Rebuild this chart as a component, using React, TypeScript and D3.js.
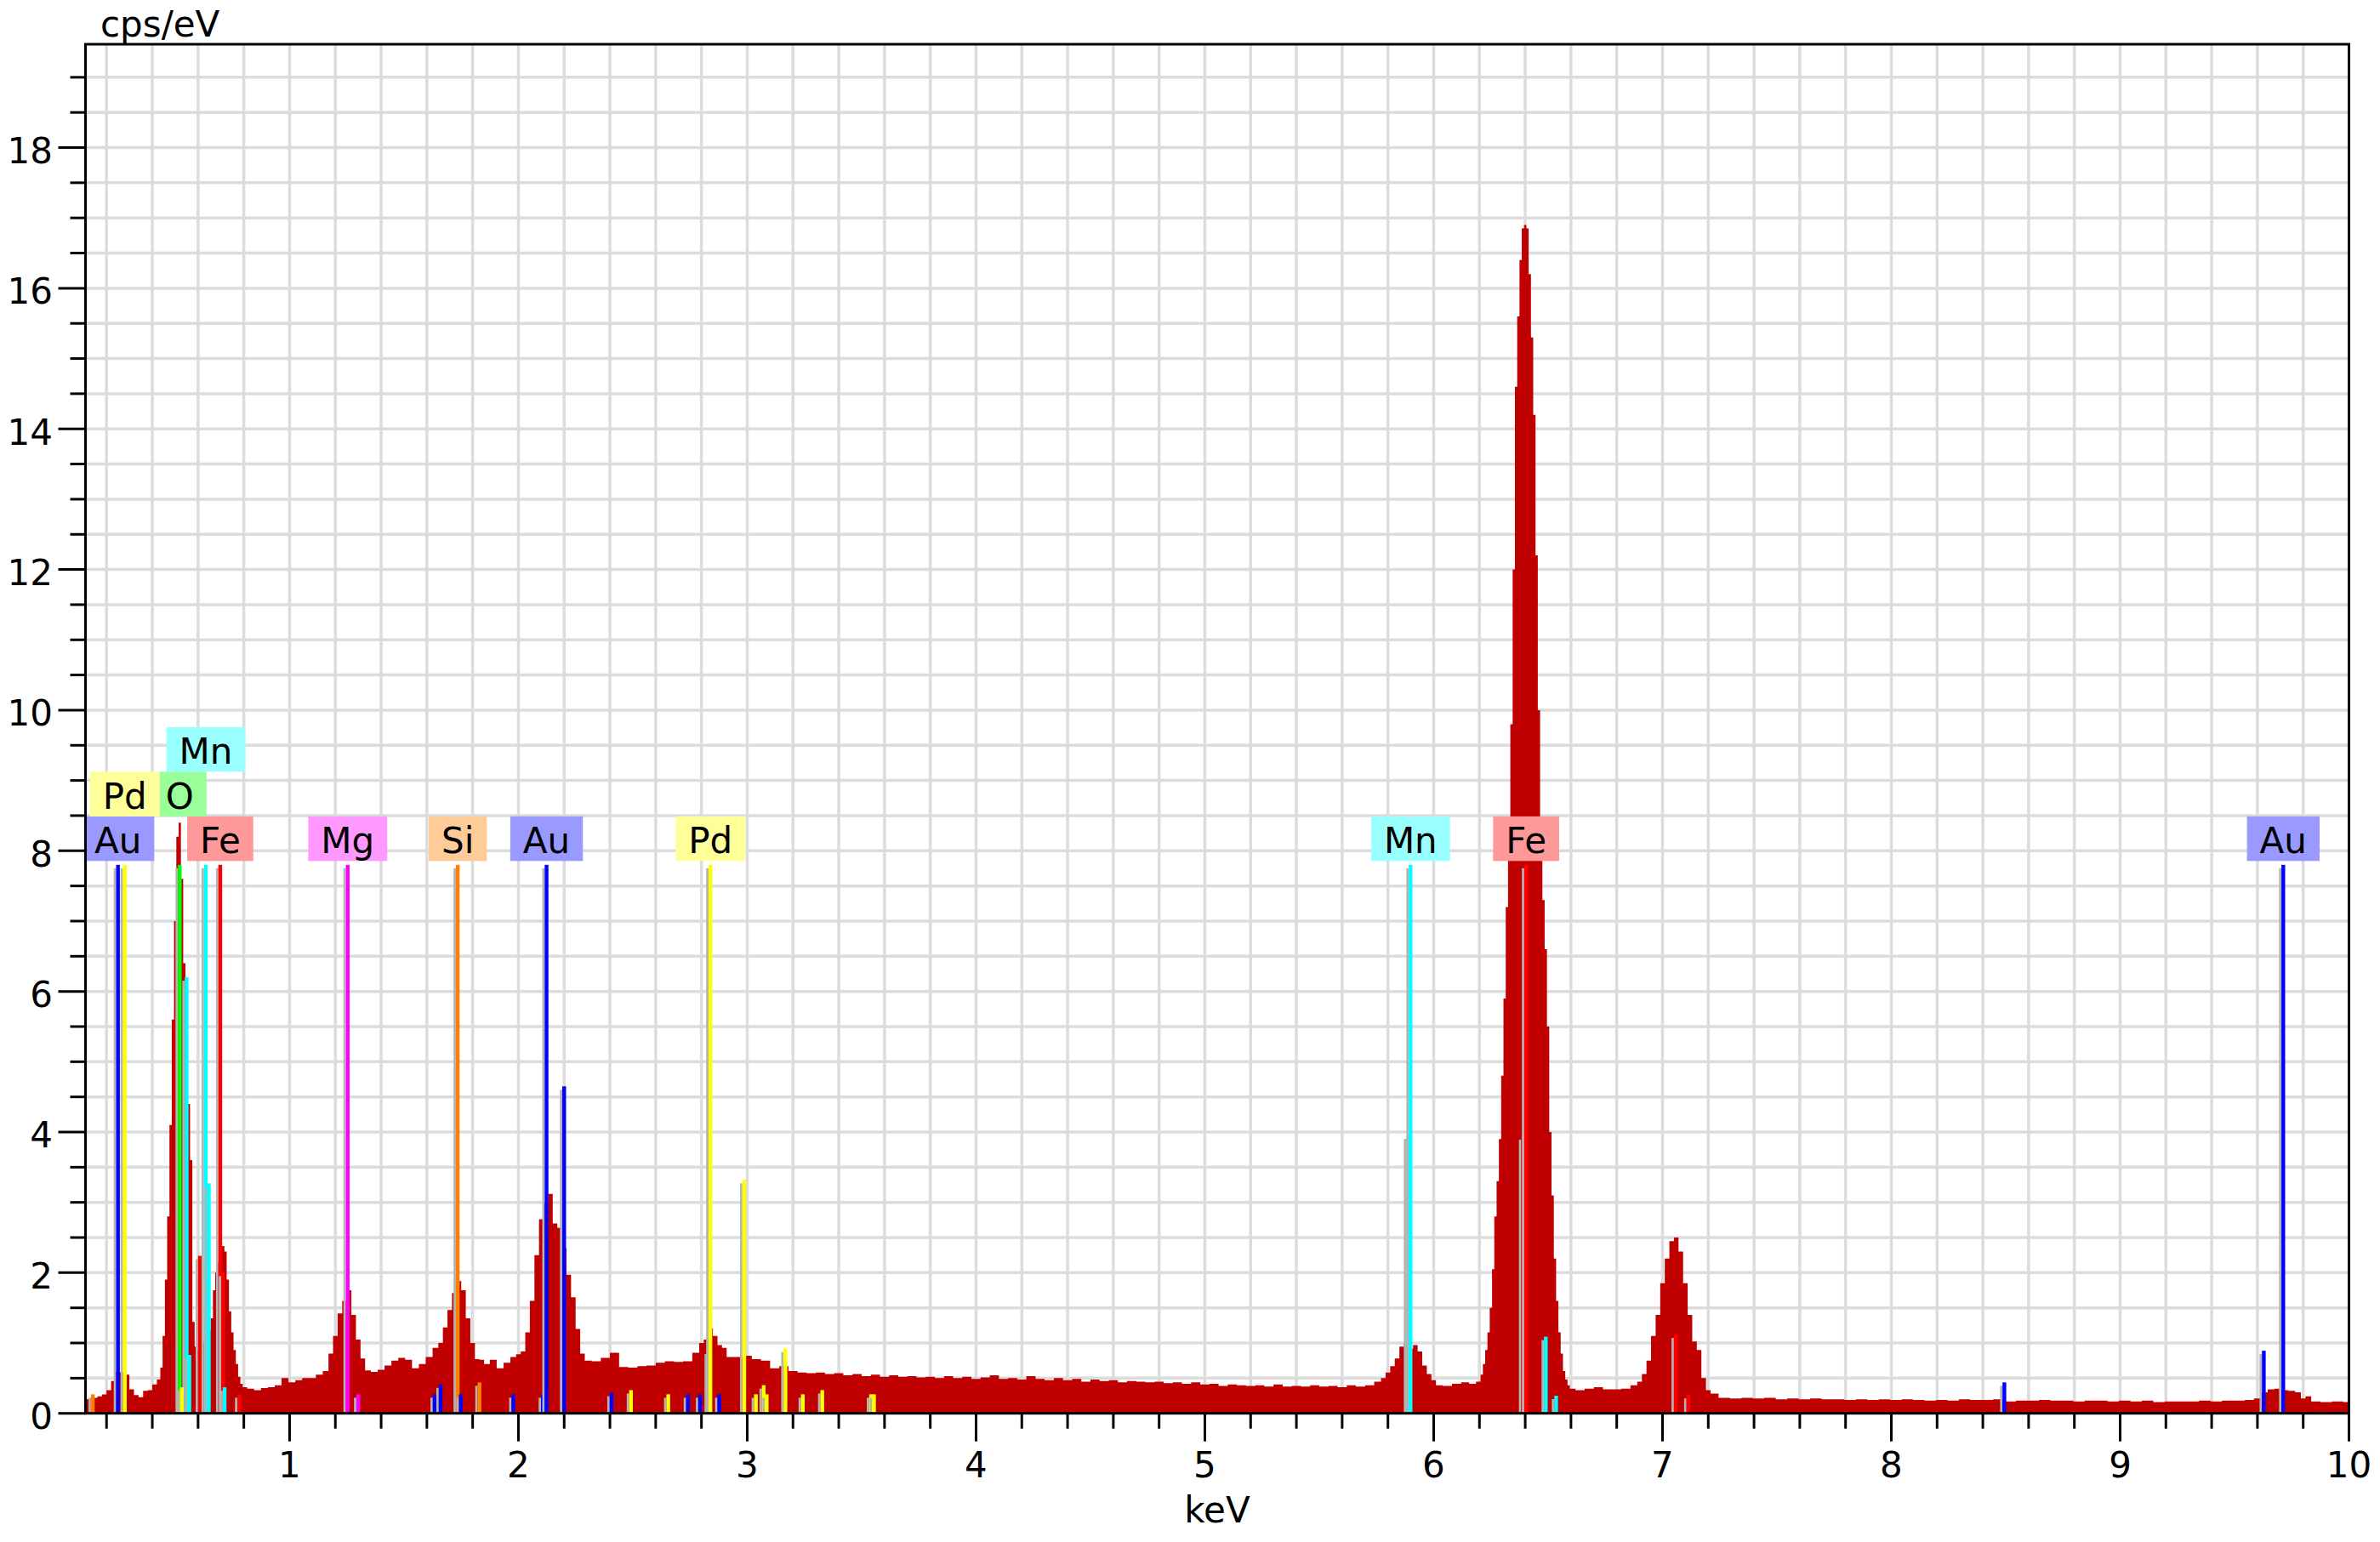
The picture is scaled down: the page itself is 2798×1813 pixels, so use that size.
import { useMemo } from "react";
import * as d3 from "d3";

const WIDTH = 2798;
const HEIGHT = 1813;
const PLOT = { left: 100.5, right: 2761.5, top: 52, bottom: 1661.7 };
const FONT = "'DejaVu Sans', Verdana, sans-serif";
const FONT_SIZE = 42;

const X_MIN = 0.108;
const X_MAX = 10;
const Y_MAX = 19.47;
const X_TICK_LABELS = [1, 2, 3, 4, 5, 6, 7, 8, 9, 10];
const Y_TICK_LABELS = [0, 2, 4, 6, 8, 10, 12, 14, 16, 18];

// measured spectrum, [keV, cps/eV]
const SPECTRUM: [number, number][] = [
  [0.11, 0.2], [0.13, 0.21], [0.15, 0.22], [0.17, 0.24], [0.19, 0.27], [0.21, 0.33], [0.23, 0.46],
  [0.25, 0.59], [0.27, 0.58], [0.29, 0.55], [0.31, 0.34], [0.33, 0.26], [0.35, 0.23], [0.37, 0.32],
  [0.39, 0.33], [0.41, 0.41], [0.43, 0.48], [0.44, 0.65], [0.45, 1.1], [0.46, 1.9], [0.47, 2.8],
  [0.48, 4.1], [0.49, 5.6], [0.5, 7.0], [0.51, 8.2], [0.52, 8.4], [0.53, 7.6], [0.54, 6.4], [0.55, 5.3],
  [0.56, 4.4], [0.57, 3.6], [0.58, 1.3], [0.59, 0.95], [0.6, 0.9], [0.61, 0.95], [0.62, 1.0],
  [0.63, 1.05], [0.64, 1.1], [0.65, 1.18], [0.66, 1.35], [0.67, 1.75], [0.68, 2.0], [0.69, 2.15],
  [0.7, 2.36], [0.71, 2.38], [0.72, 2.3], [0.73, 1.9], [0.74, 1.45], [0.75, 1.15], [0.76, 0.9],
  [0.77, 0.7], [0.78, 0.52], [0.79, 0.42], [0.8, 0.37], [0.83, 0.35], [0.86, 0.33], [0.89, 0.36],
  [0.92, 0.37], [0.95, 0.4], [0.98, 0.5], [1.01, 0.44], [1.04, 0.47], [1.07, 0.5], [1.1, 0.5],
  [1.13, 0.55], [1.16, 0.6], [1.18, 0.85], [1.2, 1.1], [1.22, 1.42], [1.24, 1.6], [1.26, 1.75],
  [1.28, 1.4], [1.3, 1.05], [1.32, 0.78], [1.34, 0.61], [1.37, 0.59], [1.4, 0.62], [1.43, 0.68],
  [1.46, 0.75], [1.49, 0.79], [1.52, 0.76], [1.55, 0.64], [1.58, 0.7], [1.61, 0.8], [1.64, 0.93],
  [1.66, 1.0], [1.68, 1.22], [1.7, 1.47], [1.72, 1.71], [1.74, 1.88], [1.76, 1.75], [1.78, 1.35],
  [1.8, 1.0], [1.82, 0.77], [1.84, 0.76], [1.86, 0.7], [1.89, 0.76], [1.92, 0.64], [1.95, 0.72],
  [1.98, 0.8], [2.0, 0.84], [2.02, 0.88], [2.04, 1.15], [2.06, 1.6], [2.08, 2.25], [2.1, 2.76],
  [2.12, 3.0], [2.14, 3.12], [2.16, 2.7], [2.18, 2.64], [2.2, 2.35], [2.22, 1.97], [2.24, 1.65],
  [2.26, 1.2], [2.28, 0.85], [2.3, 0.75], [2.34, 0.74], [2.38, 0.79], [2.42, 0.86], [2.46, 0.66],
  [2.5, 0.65], [2.54, 0.67], [2.58, 0.68], [2.62, 0.72], [2.66, 0.74], [2.7, 0.73], [2.74, 0.74],
  [2.78, 0.86], [2.8, 1.0], [2.82, 1.05], [2.84, 1.21], [2.86, 1.1], [2.88, 0.97], [2.9, 0.93],
  [2.92, 0.8], [2.96, 0.8], [3.0, 0.82], [3.04, 0.77], [3.08, 0.75], [3.12, 0.64], [3.16, 0.67],
  [3.2, 0.6], [3.24, 0.58], [3.28, 0.57], [3.32, 0.58], [3.36, 0.56], [3.4, 0.57], [3.44, 0.54],
  [3.48, 0.56], [3.52, 0.53], [3.56, 0.55], [3.6, 0.52], [3.64, 0.54], [3.68, 0.52], [3.72, 0.53],
  [3.76, 0.51], [3.8, 0.52], [3.84, 0.5], [3.88, 0.53], [3.92, 0.5], [3.96, 0.52], [4.0, 0.49],
  [4.04, 0.51], [4.08, 0.54], [4.12, 0.49], [4.16, 0.5], [4.2, 0.48], [4.24, 0.53], [4.28, 0.49],
  [4.32, 0.47], [4.36, 0.5], [4.4, 0.47], [4.44, 0.49], [4.48, 0.45], [4.52, 0.48], [4.56, 0.46],
  [4.6, 0.47], [4.64, 0.44], [4.68, 0.46], [4.72, 0.45], [4.76, 0.44], [4.8, 0.45], [4.84, 0.43],
  [4.88, 0.44], [4.92, 0.42], [4.96, 0.44], [5.0, 0.41], [5.04, 0.42], [5.08, 0.39], [5.12, 0.41],
  [5.16, 0.4], [5.2, 0.39], [5.24, 0.4], [5.28, 0.38], [5.32, 0.41], [5.36, 0.38], [5.4, 0.39],
  [5.44, 0.38], [5.48, 0.4], [5.52, 0.38], [5.56, 0.39], [5.6, 0.37], [5.64, 0.4], [5.68, 0.38],
  [5.72, 0.4], [5.76, 0.45], [5.78, 0.5], [5.8, 0.58], [5.82, 0.67], [5.84, 0.78], [5.86, 0.95],
  [5.88, 1.0], [5.9, 0.92], [5.92, 0.97], [5.94, 0.88], [5.96, 0.68], [5.98, 0.56], [6.0, 0.47],
  [6.02, 0.4], [6.06, 0.39], [6.1, 0.42], [6.14, 0.44], [6.17, 0.42], [6.2, 0.45], [6.21, 0.55],
  [6.22, 0.7], [6.23, 0.9], [6.24, 1.15], [6.25, 1.5], [6.26, 2.05], [6.27, 2.8], [6.28, 3.3],
  [6.29, 3.9], [6.3, 4.8], [6.31, 5.9], [6.32, 7.2], [6.33, 8.4], [6.34, 9.8], [6.35, 12.0],
  [6.36, 14.6], [6.37, 15.6], [6.38, 16.4], [6.39, 16.85], [6.4, 16.9], [6.41, 16.85], [6.42, 16.2],
  [6.43, 15.3], [6.44, 14.2], [6.45, 12.2], [6.46, 10.0], [6.47, 8.2], [6.48, 7.3], [6.49, 6.6],
  [6.5, 5.5], [6.51, 4.0], [6.52, 3.1], [6.53, 2.2], [6.54, 1.6], [6.55, 1.15], [6.56, 0.85],
  [6.57, 0.6], [6.58, 0.48], [6.59, 0.4], [6.6, 0.35], [6.64, 0.33], [6.68, 0.35], [6.72, 0.37],
  [6.76, 0.34], [6.8, 0.34], [6.84, 0.35], [6.88, 0.4], [6.9, 0.45], [6.92, 0.56], [6.94, 0.75],
  [6.96, 1.1], [6.98, 1.4], [7.0, 1.85], [7.02, 2.2], [7.04, 2.45], [7.06, 2.5], [7.08, 2.3],
  [7.1, 1.85], [7.12, 1.4], [7.14, 1.02], [7.16, 0.9], [7.18, 0.5], [7.2, 0.33], [7.22, 0.28],
  [7.27, 0.22], [7.32, 0.21], [7.37, 0.22], [7.42, 0.21], [7.47, 0.22], [7.52, 0.2], [7.57, 0.21],
  [7.62, 0.2], [7.67, 0.21], [7.72, 0.2], [7.77, 0.2], [7.82, 0.19], [7.87, 0.2], [7.92, 0.19],
  [7.97, 0.2], [8.02, 0.19], [8.07, 0.2], [8.12, 0.19], [8.17, 0.18], [8.22, 0.19], [8.27, 0.18],
  [8.32, 0.2], [8.37, 0.19], [8.42, 0.19], [8.47, 0.2], [8.52, 0.17], [8.57, 0.18], [8.62, 0.18],
  [8.67, 0.19], [8.72, 0.18], [8.77, 0.18], [8.82, 0.17], [8.87, 0.18], [8.92, 0.18], [8.97, 0.17],
  [9.02, 0.18], [9.07, 0.17], [9.12, 0.18], [9.17, 0.16], [9.22, 0.17], [9.27, 0.17], [9.32, 0.17],
  [9.37, 0.18], [9.42, 0.17], [9.47, 0.18], [9.52, 0.18], [9.57, 0.19], [9.6, 0.21], [9.63, 0.3],
  [9.66, 0.34], [9.69, 0.35], [9.72, 0.33], [9.75, 0.32], [9.78, 0.3], [9.8, 0.21], [9.82, 0.24],
  [9.85, 0.17], [9.9, 0.16], [9.95, 0.17], [10.0, 0.16],
];

// element marker lines, [keV, height]
const AU_LINES = [
  [0.25, 7.8], [1.634, 0.27], [1.66, 0.41], [1.748, 0.27], [1.978, 0.27], [2.107, 0.27], [2.123, 7.8],
  [2.2, 4.65], [2.407, 0.29], [2.741, 0.27], [2.794, 0.27], [2.878, 0.27], [8.494, 0.44],
  [9.628, 0.89], [9.713, 7.8],
];
const PD_LINES = [
  [0.28, 7.8], [0.529, 0.37], [2.492, 0.33], [2.655, 0.27], [2.832, 0.89], [2.839, 7.8],
  [2.987, 3.32], [3.038, 0.27], [3.072, 0.4], [3.085, 0.27], [3.167, 0.92], [3.243, 0.27],
  [3.328, 0.33], [3.541, 0.27], [3.554, 0.27],
];
const O_LINES = [[0.52, 7.8]];
const MN_LINES = [
  [0.55, 6.2], [0.562, 0.83], [0.634, 7.8], [0.647, 3.27], [0.716, 0.37], [5.888, 3.95],
  [5.899, 7.8], [6.49, 1.09], [6.535, 0.25],
];
const FE_LINES = [
  [0.608, 2.24], [0.697, 7.8], [0.709, 2.0], [0.78, 0.27], [6.391, 3.94], [6.404, 7.8],
  [7.058, 1.12], [7.113, 0.26],
];
const MG_LINES = [[1.254, 7.8], [1.3, 0.27]];
const SI_LINES = [[0.14, 0.27], [1.735, 7.8], [1.83, 0.44]];

const LINE_COLOR: Record<string, string> = {
  Au: "#0000FF", Pd: "#FFFF00", O: "#00FF00", Mn: "#00FFFF", Fe: "#FF0000", Mg: "#FF00FF", Si: "#FF8000",
};
const LABEL_COLOR: Record<string, string> = {
  Au: "#9999FF", Pd: "#FFFF99", O: "#99FF99", Mn: "#99FFFF", Fe: "#FF9999", Mg: "#FF99FF", Si: "#FFCC99",
};

// labels in placement order
const LABELS: [string, number][] = [
  ["Au", 0.25], ["Fe", 0.697], ["Mg", 1.254], ["Si", 1.735], ["Au", 2.123], ["Pd", 2.839],
  ["Mn", 5.899], ["Fe", 6.404], ["Au", 9.713], ["Pd", 0.28], ["O", 0.52], ["Mn", 0.634],
];

const ELEMENT_LINES: [string, number[][]][] = [
  ["Si", SI_LINES], ["Mg", MG_LINES], ["Fe", FE_LINES], ["Mn", MN_LINES], ["O", O_LINES],
  ["Pd", PD_LINES], ["Au", AU_LINES],
];

const LABEL_H = 52.5;
const LABEL_PAD = 30;
const LABEL_TOP_VALUE = 7.8;

export default function App() {
  const x = d3.scaleLinear().domain([X_MIN, X_MAX]).range([PLOT.left, PLOT.right]);
  const y = d3.scaleLinear().domain([0, Y_MAX]).range([PLOT.bottom, PLOT.top]);

  const areaPath = d3
    .area<[number, number]>()
    .x((d) => x(d[0]))
    .y0(y(0))
    .y1((d) => y(d[1]))
    .curve(d3.curveStep)(SPECTRUM) as string;

  const labels = useMemo(() => {
    const ctx = document.createElement("canvas").getContext("2d")!;
    ctx.font = `${FONT_SIZE}px ${FONT}`;
    const rows: [number, number][][] = [];
    return LABELS.map(([el, kev]) => {
      const w = ctx.measureText(el).width + LABEL_PAD;
      const cx = x(kev);
      const right = cx + w / 2;
      const natLeft = Math.max(PLOT.left + 1.5, cx - w / 2);
      for (let r = 0; ; r++) {
        rows[r] = rows[r] || [];
        let l = natLeft;
        let ok = true;
        for (const [a, b] of rows[r]) {
          if (l < b && right > a) {
            if (b - l <= 10 && right > b) l = b;
            else {
              ok = false;
              break;
            }
          }
        }
        if (ok) {
          rows[r].push([l, right]);
          return { el, cx, x0: l, x1: right, row: r };
        }
      }
    });
  }, []);

  const labelBottom = y(LABEL_TOP_VALUE) - 4.5;
  const gridX = d3.range(1, 50).map((i) => i * 0.2);
  const gridY = d3.range(1, 39).map((i) => i * 0.5);
  const ticksX = d3.range(1, 51).map((i) => ({ v: i * 0.2, major: i % 5 === 0 }));
  const ticksY = d3.range(0, 39).map((i) => ({ v: i * 0.5, major: i % 4 === 0 }));

  return (
    <svg
      width={WIDTH}
      height={HEIGHT}
      style={{ position: "absolute", left: 0, top: 0, background: "#fff" }}
      fontFamily={FONT}
      fontSize={FONT_SIZE}
    >
      <rect x={0} y={0} width={WIDTH} height={HEIGHT} fill="#fff" />
      <g stroke="#DCDCDC" strokeWidth={3.5}>
        {gridX.map((v) => (
          <line key={"gx" + v} x1={x(v)} x2={x(v)} y1={PLOT.top} y2={PLOT.bottom} />
        ))}
        {gridY.map((v) => (
          <line key={"gy" + v} x1={PLOT.left} x2={PLOT.right} y1={y(v)} y2={y(v)} />
        ))}
      </g>

      <path d={areaPath} fill="#C00000" />

      {ELEMENT_LINES.map(([el, lines]) =>
        lines.map(([kev, h], i) => (
          <g key={el + i}>
            <rect
              x={x(kev) - 5}
              y={y(h) + 4}
              width={2.8}
              height={Math.max(0, PLOT.bottom - y(h) - 4)}
              fill="#B4B4B4"
            />
            <rect x={x(kev) - 2.2} y={y(h)} width={4.4} height={PLOT.bottom - y(h)} fill={LINE_COLOR[el]} />
          </g>
        ))
      )}

      {labels.map((d, i) => {
        const bottom = labelBottom - d.row * LABEL_H;
        return (
          <g key={"lab" + i}>
            <rect x={d.x0} y={bottom - LABEL_H} width={d.x1 - d.x0} height={LABEL_H} fill={LABEL_COLOR[d.el]} />
            <text x={d.cx} y={bottom - 9} textAnchor="middle" fill="#000">
              {d.el}
            </text>
          </g>
        );
      })}

      <rect
        x={PLOT.left}
        y={PLOT.top}
        width={PLOT.right - PLOT.left}
        height={PLOT.bottom - PLOT.top}
        fill="none"
        stroke="#000"
        strokeWidth={3}
      />
      <g stroke="#000" strokeWidth={3}>
        {ticksX.map((t) => (
          <line key={"tx" + t.v} x1={x(t.v)} x2={x(t.v)} y1={PLOT.bottom} y2={PLOT.bottom + (t.major ? 33 : 18)} />
        ))}
        {ticksY.map((t) => (
          <line key={"ty" + t.v} x1={PLOT.left} x2={PLOT.left - (t.major ? 32 : 18)} y1={y(t.v)} y2={y(t.v)} />
        ))}
      </g>
      {X_TICK_LABELS.map((v) => (
        <text key={"lx" + v} x={x(v)} y={1737.3} textAnchor="middle" fill="#000">
          {v}
        </text>
      ))}
      {Y_TICK_LABELS.map((v) => (
        <text key={"ly" + v} x={62} y={y(v) + 18.5} textAnchor="end" fill="#000">
          {v}
        </text>
      ))}
      <text x={118} y={43} fill="#000">
        cps/eV
      </text>
      <text x={(PLOT.left + PLOT.right) / 2} y={1790} textAnchor="middle" fill="#000">
        keV
      </text>
    </svg>
  );
}
